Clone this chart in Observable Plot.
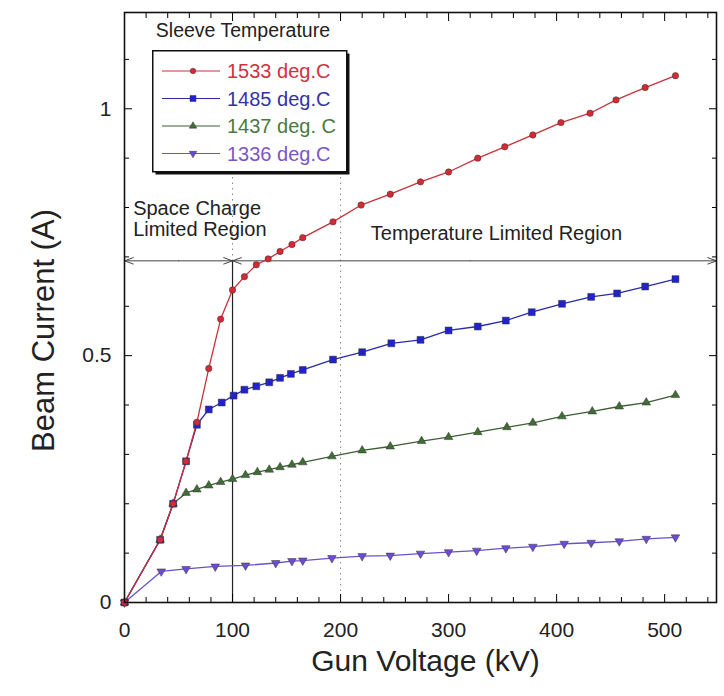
<!DOCTYPE html>
<html>
<head>
<meta charset="utf-8">
<script src="https://cdn.jsdelivr.net/npm/d3@7"></script>
<script src="https://cdn.jsdelivr.net/npm/@observablehq/plot@0.6"></script>
<style>
  html, body { margin: 0; padding: 0; background: #fff; }
  #wrap { position: relative; width: 724px; height: 696px; font-family: "Liberation Sans", Arial, sans-serif; }
  #legend { position: absolute; }
</style>
</head>
<body>
<div id="wrap"><div id="chart"></div><div id="legend"></div></div>
<script>
// ---- Data ----
const seriesNames = ["1533 deg.C", "1485 deg.C", "1437 deg. C", "1336 deg.C"];
const legendTitle = "Sleeve Temperature";

const voltRed  = [0, 33, 45, 57, 67, 78, 89, 100, 111, 122, 133, 144, 155, 165, 193, 219, 246, 274, 300, 327, 352, 378, 404, 431, 455, 482, 510];
const currRed  = [0, 0.127, 0.2, 0.286, 0.365, 0.474, 0.574, 0.633, 0.66, 0.684, 0.696, 0.711, 0.725, 0.739, 0.771, 0.805, 0.827, 0.852, 0.872, 0.9, 0.923, 0.947, 0.972, 0.991, 1.018, 1.043, 1.067];

const voltBlue = [0, 33, 45, 57, 67, 78, 90, 101, 111, 122, 134, 144, 154, 165, 193, 220, 247, 274, 300, 327, 353, 377, 405, 432, 456, 482, 510];
const currBlue = [0, 0.127, 0.2, 0.286, 0.36, 0.391, 0.405, 0.419, 0.431, 0.438, 0.446, 0.455, 0.463, 0.471, 0.492, 0.507, 0.525, 0.532, 0.551, 0.559, 0.571, 0.588, 0.605, 0.619, 0.626, 0.64, 0.655];

const voltGreen = [0, 33, 45, 57, 67, 78, 89, 100, 112, 123, 134, 144, 155, 165, 192, 220, 246, 275, 300, 327, 354, 378, 405, 433, 458, 483, 510];
const currGreen = [0, 0.127, 0.2, 0.222, 0.229, 0.237, 0.244, 0.25, 0.258, 0.264, 0.269, 0.274, 0.279, 0.284, 0.296, 0.308, 0.316, 0.327, 0.335, 0.345, 0.355, 0.364, 0.377, 0.387, 0.397, 0.405, 0.42];

const voltPurple = [0, 34, 57, 84, 112, 140, 155, 165, 192, 220, 246, 274, 300, 326, 353, 378, 407, 432, 458, 483, 510];
const currPurple = [0, 0.063, 0.068, 0.073, 0.075, 0.08, 0.084, 0.085, 0.09, 0.094, 0.095, 0.099, 0.102, 0.105, 0.11, 0.113, 0.119, 0.121, 0.124, 0.129, 0.132];

const xTicks = [0, 100, 200, 300, 400, 500];
const xMinorTicks = [20, 40, 60, 80, 120, 140, 160, 180, 220, 240, 260, 280, 320, 340, 360, 380, 420, 440, 460, 480, 520, 540];
const yTicks = [0, 0.5, 1];
const yMinorTicks = [0.1, 0.2, 0.3, 0.4, 0.6, 0.7, 0.8, 0.9, 1.1];

// region boundary and annotation values
const boundaryVoltage = 100;
const regionArrowCurrent = 0.692;
const regionLabels = [
  {x: 8, y: 0.797, text: "Space Charge"},
  {x: 8, y: 0.755, text: "Limited Region"},
  {x: 228, y: 0.747, text: "Temperature Limited Region"}
];
const dottedGrid = [100, 200];

// ---- Styling ----
const colors = ["#d42a33", "#2222cc", "#3f6e35", "#6d4bd6"];
const lineColors = ["#c8323a", "#2a2aa8", "#3d5e35", "#6a52c8"];
const textColors = ["#d23040", "#3333a8", "#4a7a3e", "#7b55c8"];

const triangleDown = {
  draw(context, size) {
    const y = -Math.sqrt(size / (Math.sqrt(3) * 3));
    context.moveTo(0, -y * 2);
    context.lineTo(-Math.sqrt(3) * y, y);
    context.lineTo(Math.sqrt(3) * y, y);
    context.closePath();
  }
};
const symbols = ["circle", "square", "triangle", triangleDown];
const symbolR = [3.2, 3.9, 3.2, 3.2];

const toRows = (xs, ys) => xs.map((x, i) => ({x, y: ys[i]}));
const series = [
  toRows(voltRed, currRed),
  toRows(voltBlue, currBlue),
  toRows(voltGreen, currGreen),
  toRows(voltPurple, currPurple)
];

const font = "'Liberation Sans', Arial, sans-serif";
const xDomain = [0, 548];
const yDomain = [0, 1.195];

const marks = [];
// dotted grid lines
marks.push(Plot.ruleX(dottedGrid, {x: d => d, y1: 0, y2: 0.865, stroke: "#888", strokeDasharray: "1.5,4", strokeWidth: 1}));
// solid boundary line
marks.push(Plot.ruleX([boundaryVoltage], {x: d => d, y1: 0, y2: regionArrowCurrent, stroke: "#222", strokeWidth: 1.2}));
// region arrows (double headed: from midpoint outwards)
const arrowSegs = [
  {x1: boundaryVoltage / 2, x2: 0},
  {x1: boundaryVoltage / 2, x2: boundaryVoltage},
  {x1: 320, x2: boundaryVoltage},
  {x1: 320, x2: xDomain[1]}
];
marks.push(Plot.arrow(arrowSegs, {x1: "x1", x2: "x2", y1: regionArrowCurrent, y2: regionArrowCurrent, stroke: "#444", strokeWidth: 1, headLength: 14, headAngle: 40}));
// series lines and markers (draw lowest first)
for (let k = 3; k >= 0; k--) {
  marks.push(Plot.line(series[k], {x: "x", y: "y", stroke: lineColors[k], strokeWidth: 1.3}));
}
for (let k = 3; k >= 0; k--) {
  marks.push(Plot.dot(series[k], {x: "x", y: "y", symbol: symbols[k], r: symbolR[k], fill: colors[k], stroke: "#333", strokeWidth: 0.5}));
}
// annotations
marks.push(Plot.text(regionLabels, {x: "x", y: "y", text: "text", textAnchor: "start", fontSize: 20, fill: "#222", fontFamily: font}));
// legend title
marks.push(Plot.text([legendTitle], {x: 29, y: 1.158, text: d => d, textAnchor: "start", fontSize: 19.5, fill: "#222", fontFamily: font}));
// axes: labels
marks.push(Plot.axisX({ticks: xTicks, tickSize: 0, tickPadding: 20, fontSize: 21, label: null, fontFamily: font, fill: "#222"}));
marks.push(Plot.axisY({ticks: yTicks, tickSize: 0, tickPadding: 13, fontSize: 21, label: null, fontFamily: font, fill: "#222", tickFormat: d => String(d)}));
// inward ticks
marks.push(Plot.axisX({ticks: xTicks, tickSize: -8, tickFormat: () => "", label: null}));
marks.push(Plot.axisX({ticks: xMinorTicks, tickSize: -5, tickFormat: () => "", label: null}));
marks.push(Plot.axisX({anchor: "top", ticks: xTicks, tickSize: -8, tickFormat: () => "", label: null}));
marks.push(Plot.axisX({anchor: "top", ticks: xMinorTicks, tickSize: -5, tickFormat: () => "", label: null}));
marks.push(Plot.axisY({ticks: yTicks, tickSize: -8, tickFormat: () => "", label: null}));
marks.push(Plot.axisY({ticks: yMinorTicks, tickSize: -5, tickFormat: () => "", label: null}));
marks.push(Plot.axisY({anchor: "right", ticks: yTicks, tickSize: -8, tickFormat: () => "", label: null}));
marks.push(Plot.axisY({anchor: "right", ticks: yMinorTicks, tickSize: -5, tickFormat: () => "", label: null}));
// axis titles
marks.push(Plot.text(["Gun Voltage (kV)"], {frameAnchor: "bottom", text: d => d, dy: 68, dx: 5, fontSize: 30, fill: "#222", fontFamily: font}));
marks.push(Plot.text(["Beam Current (A)"], {frameAnchor: "left", textAnchor: "middle", text: d => d, rotate: -90, dx: -80, dy: 23, fontSize: 31, fill: "#222", fontFamily: font}));
marks.push(Plot.frame({stroke: "#111", strokeWidth: 1.6}));

const chart = Plot.plot({
  width: 724,
  height: 696,
  marginLeft: 124,
  marginRight: 8,
  marginTop: 12,
  marginBottom: 94,
  style: {background: "#fff", fontFamily: font},
  x: {domain: xDomain},
  y: {domain: yDomain},
  marks
});
document.getElementById("chart").appendChild(chart);

// ---- Legend overlay, positioned from the plot scales ----
const xs = chart.scale("x"), ys = chart.scale("y");
const boxLeft = xs.apply(26), boxTop = ys.apply(1.118);
const boxW = 194, boxH = 121;
const leg = d3.select("#legend")
  .style("left", boxLeft + "px").style("top", boxTop + "px");
const svg = leg.append("svg").attr("width", boxW + 6).attr("height", boxH + 6);
svg.append("rect").attr("x", 3.5).attr("y", 3.5).attr("width", boxW).attr("height", boxH).attr("fill", "#111");
svg.append("rect").attr("x", 0.75).attr("y", 0.75).attr("width", boxW).attr("height", boxH).attr("fill", "#fff").attr("stroke", "#111").attr("stroke-width", 1.5);
seriesNames.forEach((name, k) => {
  const cy = 21 + k * 27.5;
  svg.append("line").attr("x1", 10).attr("x2", 68).attr("y1", cy).attr("y2", cy).attr("stroke", lineColors[k]).attr("stroke-width", 1.2);
  const sym = typeof symbols[k] === "string"
    ? {circle: d3.symbolCircle, square: d3.symbolSquare, triangle: d3.symbolTriangle}[symbols[k]]
    : symbols[k];
  const size = Math.PI * symbolR[k] * symbolR[k] * 0.75;
  svg.append("path").attr("d", d3.symbol(sym, size)()).attr("transform", `translate(41,${cy})`)
    .attr("fill", colors[k]).attr("stroke", "#333").attr("stroke-width", 0.5);
  svg.append("text").attr("x", 75).attr("y", cy).attr("dy", "0.35em").attr("font-size", 20)
    .attr("font-family", font).attr("fill", textColors[k]).text(name);
});
</script>
</body>
</html>
